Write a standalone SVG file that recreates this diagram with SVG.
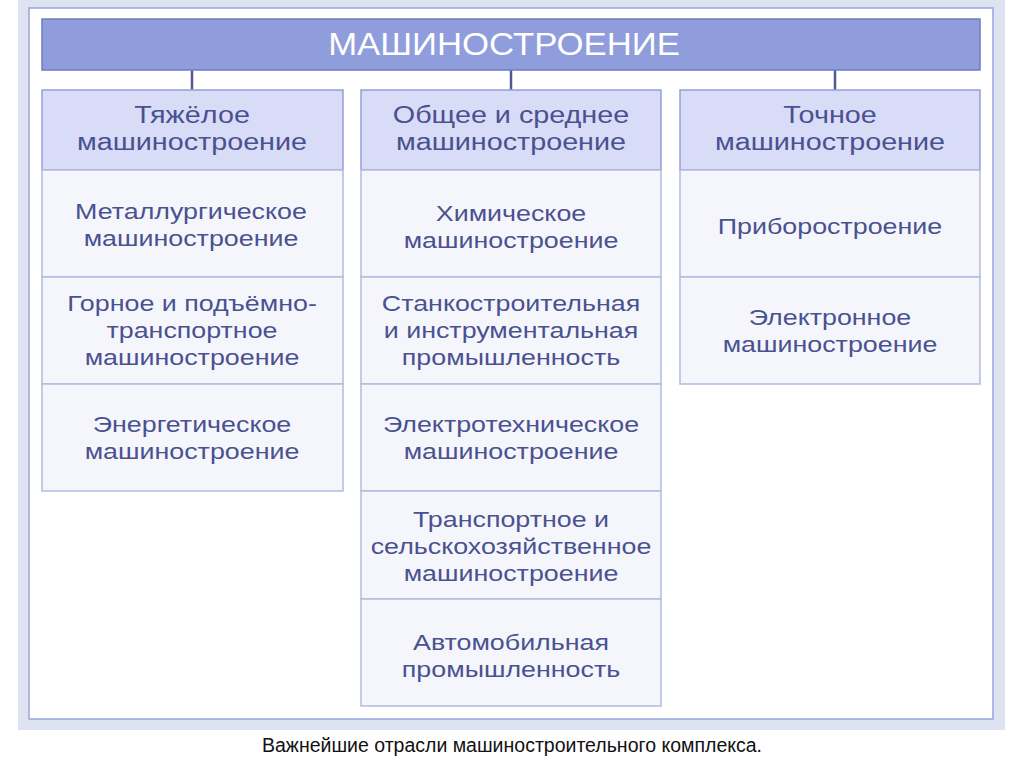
<svg xmlns="http://www.w3.org/2000/svg" width="1024" height="767" viewBox="0 0 1024 767">
<style>
.t{font-family:"Liberation Sans",Arial,sans-serif;font-size:22px;fill:#4a5190;text-anchor:middle}
.h{font-family:"Liberation Sans",Arial,sans-serif;font-size:23px;fill:#4a5190;text-anchor:middle}
.hd{fill:#d9dcf7;stroke:#959ed6;stroke-width:1.5}
.cell{fill:#f5f6fc;stroke:#b4badf;stroke-width:1.5}
.conn{stroke:#4f5896;stroke-width:2.5;fill:none}
</style>
<rect x="0" y="0" width="1024" height="767" fill="#ffffff"/>
<rect x="18" y="0" width="987" height="730" fill="#dde3f1"/>
<rect x="29" y="8" width="964" height="711" fill="#ffffff" stroke="#9aa3e0" stroke-width="1.5"/>
<g id="connectors">
<line class="conn" x1="192" y1="70" x2="192" y2="90"/>
<line class="conn" x1="511" y1="70" x2="511" y2="90"/>
<line class="conn" x1="835" y1="70" x2="835" y2="90"/>
</g>
<g id="root">
<rect x="42" y="19" width="938" height="51" fill="#8f9ddd" stroke="#6f7dc0" stroke-width="1.5"/>
<text transform="translate(504,55) scale(1.12,1)" x="0" y="0" style="font-family:'Liberation Sans',Arial,sans-serif;font-size:31px;fill:#ffffff;text-anchor:middle">МАШИНОСТРОЕНИЕ</text>
</g>
<g id="col1">
<g id="heavy"><rect class="hd" x="42" y="90" width="301" height="80"/><text class="h" transform="translate(192,0) scale(1.25,1)"><tspan x="0" y="123">Тяжёлое</tspan><tspan x="0" y="150">машиностроение</tspan></text></g>
<g id="metal"><rect class="cell" x="42" y="170" width="301" height="107"/><text class="t" transform="translate(191,0) scale(1.22,1)"><tspan x="0" y="219">Металлургическое</tspan><tspan x="0" y="246">машиностроение</tspan></text></g>
<g id="mining"><rect class="cell" x="42" y="277" width="301" height="107"/><text class="t" transform="translate(192,0) scale(1.22,1)"><tspan x="0" y="311">Горное и подъёмно-</tspan><tspan x="0" y="338">транспортное</tspan><tspan x="0" y="365">машиностроение</tspan></text></g>
<g id="energy"><rect class="cell" x="42" y="384" width="301" height="107"/><text class="t" transform="translate(192,0) scale(1.22,1)"><tspan x="0" y="432">Энергетическое</tspan><tspan x="0" y="459">машиностроение</tspan></text></g>
</g>
<g id="col2">
<g id="general"><rect class="hd" x="361" y="90" width="300" height="80"/><text class="h" transform="translate(511,0) scale(1.25,1)"><tspan x="0" y="123">Общее и среднее</tspan><tspan x="0" y="150">машиностроение</tspan></text></g>
<g id="chem"><rect class="cell" x="361" y="170" width="300" height="107"/><text class="t" transform="translate(511,0) scale(1.22,1)"><tspan x="0" y="221">Химическое</tspan><tspan x="0" y="248">машиностроение</tspan></text></g>
<g id="machine"><rect class="cell" x="361" y="277" width="300" height="107"/><text class="t" transform="translate(511,0) scale(1.22,1)"><tspan x="0" y="311">Станкостроительная</tspan><tspan x="0" y="338">и инструментальная</tspan><tspan x="0" y="365">промышленность</tspan></text></g>
<g id="electro"><rect class="cell" x="361" y="384" width="300" height="107"/><text class="t" transform="translate(511,0) scale(1.22,1)"><tspan x="0" y="432">Электротехническое</tspan><tspan x="0" y="459">машиностроение</tspan></text></g>
<g id="transport"><rect class="cell" x="361" y="491" width="300" height="108"/><text class="t" transform="translate(511,0) scale(1.22,1)"><tspan x="0" y="527">Транспортное и</tspan><tspan x="0" y="554">сельскохозяйственное</tspan><tspan x="0" y="581">машиностроение</tspan></text></g>
<g id="auto"><rect class="cell" x="361" y="599" width="300" height="107"/><text class="t" transform="translate(511,0) scale(1.22,1)"><tspan x="0" y="650">Автомобильная</tspan><tspan x="0" y="677">промышленность</tspan></text></g>
</g>
<g id="col3">
<g id="precise"><rect class="hd" x="680" y="90" width="300" height="80"/><text class="h" transform="translate(830,0) scale(1.25,1)"><tspan x="0" y="123">Точное</tspan><tspan x="0" y="150">машиностроение</tspan></text></g>
<g id="instr"><rect class="cell" x="680" y="170" width="300" height="107"/><text class="t" transform="translate(830,0) scale(1.22,1)"><tspan x="0" y="234">Приборостроение</tspan></text></g>
<g id="electronic"><rect class="cell" x="680" y="277" width="300" height="107"/><text class="t" transform="translate(830,0) scale(1.22,1)"><tspan x="0" y="325">Электронное</tspan><tspan x="0" y="352">машиностроение</tspan></text></g>
</g>
<text x="512" y="752" textLength="500" lengthAdjust="spacingAndGlyphs" style="font-family:'Liberation Sans',Arial,sans-serif;font-size:20px;fill:#111111;text-anchor:middle">Важнейшие отрасли машиностроительного комплекса.</text>
</svg>
